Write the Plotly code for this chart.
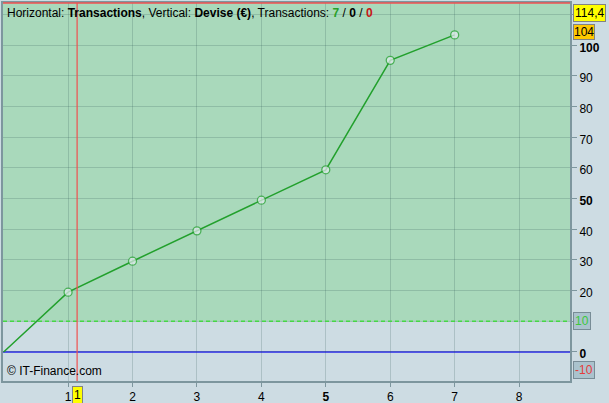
import plotly.graph_objects as go

# Data
trade_index = [0, 1, 2, 3, 4, 5, 6, 7]
equity = [0, 19.5, 29.6, 39.5, 49.5, 59.4, 95.1, 103.4]

x_tick_vals = [1, 2, 3, 4, 5, 6, 7, 8]
x_tick_text = ["1", "2", "3", "4", "<b>5</b>", "6", "7", "8"]
y_tick_vals = [0, 10, 20, 30, 40, 50, 60, 70, 80, 90, 100, 110]
y_tick_text = ["<b>0</b>", "", "20", "30", "40", "<b>50</b>", "60", "70", "80", "90", "<b>100</b>", ""]

threshold = 10
cursor_x = 1.14
x_range = [-0.01, 8.79]
y_range = [-9.46, 113.8]

FONT = "Liberation Sans, Arial, sans-serif"
BG = "rgb(205,220,227)"
GREEN_BG = "rgb(169,217,187)"

marker_sizes = [0] + [8] * (len(trade_index) - 1)

fig = go.Figure()

fig.add_trace(go.Scatter(
    x=trade_index, y=equity, mode="lines+markers",
    line=dict(color="rgb(34,160,44)", width=1.5),
    marker=dict(size=marker_sizes, color="rgb(228,236,240)",
                line=dict(color="rgb(34,160,44)", width=1.3)),
    showlegend=False, hoverinfo="skip",
))

shapes = [
    dict(type="rect", xref="paper", yref="y", x0=0, x1=1, y0=threshold, y1=y_range[1],
         fillcolor=GREEN_BG, line=dict(width=0), layer="below"),
    dict(type="line", xref="paper", yref="y", x0=0, x1=1, y0=threshold, y1=threshold,
         line=dict(color="rgb(70,215,70)", width=1.5, dash="4px,3px"), layer="above"),
    dict(type="line", xref="paper", yref="y", x0=0, x1=1, y0=0, y1=0,
         line=dict(color="rgb(40,40,235)", width=1.3), layer="below"),
    dict(type="line", xref="x", yref="paper", x0=cursor_x, x1=cursor_x, y0=0, y1=1,
         line=dict(color="rgb(240,80,80)", width=1.2), layer="above"),
    dict(type="line", xref="paper", yref="paper", x0=0, x1=1, y0=1, y1=1,
         line=dict(color="rgb(240,80,80)", width=1.5), layer="above"),
]

annotations = [
    dict(xref="paper", yref="paper", x=0.003, y=0.997, xanchor="left", yanchor="top",
         showarrow=False, align="left",
         text=("Horizontal: <b>Transactions</b>, Vertical: <b>Devise (€)</b>, Transactions: "
               "<span style='color:rgb(40,160,40)'><b>7</b></span> / <b>0</b> / "
               "<span style='color:rgb(200,20,20)'><b>0</b></span>"),
         font=dict(family=FONT, size=12, color="black")),
    dict(xref="paper", yref="paper", x=0.003, y=0.003, xanchor="left", yanchor="bottom",
         showarrow=False, text="© IT-Finance.com",
         font=dict(family=FONT, size=12, color="black")),
    dict(xref="paper", yref="paper", x=1.005, y=0.997, xanchor="left", yanchor="top",
         showarrow=False, text="114,4", bgcolor="rgb(255,255,0)",
         bordercolor="rgb(130,130,130)", borderwidth=1, borderpad=1,
         font=dict(family=FONT, size=12, color="black")),
    dict(xref="paper", yref="y", x=1.005, y=equity[-1] + 1.0, xanchor="left", yanchor="middle",
         showarrow=False, text="104", bgcolor="rgb(255,200,0)",
         bordercolor="rgb(130,130,130)", borderwidth=1, borderpad=0,
         font=dict(family=FONT, size=12, color="black")),
    dict(xref="paper", yref="y", x=1.005, y=threshold, xanchor="left", yanchor="middle",
         showarrow=False, text="10", bgcolor="rgb(170,195,205)",
         bordercolor="rgb(120,140,150)", borderwidth=1, borderpad=1,
         font=dict(family=FONT, size=12, color="rgb(60,200,60)")),
    dict(xref="paper", yref="paper", x=1.005, y=0.005, xanchor="left", yanchor="bottom",
         showarrow=False, text="-10", bgcolor="rgb(170,195,205)",
         bordercolor="rgb(120,140,150)", borderwidth=1, borderpad=1,
         font=dict(family=FONT, size=12, color="rgb(230,60,60)")),
    dict(xref="x", yref="paper", x=cursor_x, y=-0.012, xanchor="center", yanchor="top",
         showarrow=False, text="1", bgcolor="rgb(255,255,0)",
         bordercolor="rgb(130,130,130)", borderwidth=1, borderpad=1,
         font=dict(family=FONT, size=12, color="black")),
]

fig.update_layout(
    width=609, height=403,
    margin=dict(l=3, r=39, t=3, b=22, autoexpand=False),
    paper_bgcolor=BG, plot_bgcolor=BG,
    shapes=shapes, annotations=annotations,
    showlegend=False,
    xaxis=dict(range=x_range, tickvals=x_tick_vals, ticktext=x_tick_text,
               automargin=False,
               showgrid=True, gridcolor="rgba(40,80,80,0.2)", gridwidth=1,
               zeroline=False, showline=True, mirror=True,
               linecolor="rgb(125,150,158)", linewidth=2,
               ticks="outside", ticklen=4, tickcolor="rgb(125,150,158)",
               tickfont=dict(family=FONT, size=12, color="black")),
    yaxis=dict(range=y_range, side="right", tickvals=y_tick_vals, ticktext=y_tick_text,
               automargin=False, ticklabelshift=2,
               showgrid=True, gridcolor="rgba(40,80,80,0.2)", gridwidth=1,
               zeroline=False, showline=True, mirror=True,
               linecolor="rgb(125,150,158)", linewidth=2,
               ticks="outside", ticklen=5, tickcolor="rgb(125,150,158)",
               tickfont=dict(family=FONT, size=12, color="black")),
)

fig.write_html("out.html", config={"displayModeBar": False},
               post_script="document.body.style.margin='0';document.body.style.overflow='hidden';")
